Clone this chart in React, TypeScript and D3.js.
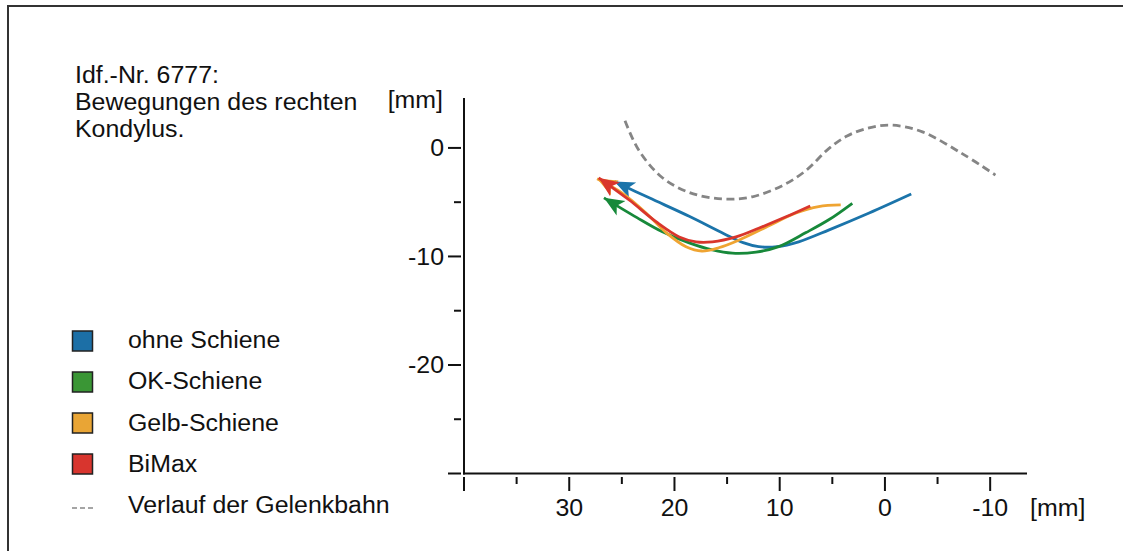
import React from "react";
import * as d3 from "d3";

const titleLines = ["Idf.-Nr. 6777:", "Bewegungen des rechten", "Kondylus."];
const unitLabel = "[mm]";

const xMajorTicks = [40, 30, 20, 10, 0, -10];
const xMinorTicks = [35, 25, 15, 5, -5];
const xTickLabels = ["", "30", "20", "10", "0", "-10"];
const yMajorTicks = [0, -10, -20, -30];
const yMinorTicks = [-5, -15, -25];
const yTickLabels = ["0", "-10", "-20", ""];

type P = [number, number];

const gelenkbahn: P[] = [
  [24.7, 2.5], [23.4, -0.2], [21.2, -2.7], [18.6, -4.1], [15.5, -4.7], [12.6, -4.5],
  [9.6, -3.4], [7.4, -2.0], [5.5, -0.2], [3.6, 1.1], [1.5, 1.85], [-0.66, 2.1],
  [-3.5, 1.5], [-7.3, -0.5], [-10.5, -2.5],
];

const ohneSchiene: P[] = [
  [-2.5, -4.25], [1.5, -6.0], [5.3, -7.55], [8.2, -8.65], [10.25, -9.1], [12.0, -9.1],
  [13.4, -8.75], [15.3, -7.9], [18.6, -6.3], [22.4, -4.6], [25.7, -3.1],
];

const okSchiene: P[] = [
  [3.1, -5.1], [5.3, -6.6], [7.5, -7.8], [10.1, -9.1], [12.25, -9.6], [14.5, -9.7],
  [16.4, -9.4], [18.6, -8.75], [21.2, -7.7], [23.6, -6.4], [26.7, -4.6],
];

const gelbSchiene: P[] = [
  [4.2, -5.25], [6.3, -5.4], [8.45, -6.0], [11.3, -7.3], [13.9, -8.5], [15.8, -9.2],
  [17.4, -9.5], [18.9, -9.1], [20.8, -7.8], [22.7, -6.0], [25.0, -4.15], [27.35, -2.85],
];

const biMax: P[] = [
  [7.1, -5.35], [9.4, -6.35], [12.0, -7.4], [14.15, -8.2], [16.4, -8.65], [17.95, -8.65],
  [19.55, -8.2], [21.75, -6.8], [24.3, -4.8], [27.2, -2.75],
];

const seriesNames = ["ohne Schiene", "OK-Schiene", "Gelb-Schiene", "BiMax"];
const seriesData = [ohneSchiene, okSchiene, gelbSchiene, biMax];
const lineColors = ["#1b74aa", "#17893a", "#efa432", "#d9362c"];
const legendColors = ["#1c6fa6", "#3a9635", "#e9a535", "#d8352e"];
const gelenkName = "Verlauf der Gelenkbahn";

const FONT = "'Liberation Sans', Arial, Helvetica, sans-serif";
const FS = 23.5;
const SX = 1.06;

function Txt({ x, y, anchor = "start", children }: { x: number; y: number; anchor?: string; children: React.ReactNode }) {
  return (
    <text
      transform={`translate(${x},${y}) scale(${SX},1)`}
      textAnchor={anchor}
      fontFamily={FONT}
      fontSize={FS}
      fill="#111"
    >
      {children}
    </text>
  );
}

export default function App() {
  const W = 1123, H = 551;
  const x = d3.scaleLinear().domain([40, -13.5]).range([464, 1027]);
  const y = d3.scaleLinear().domain([4.6, -30]).range([98, 473.5]);
  const line = d3
    .line<P>()
    .x((d) => x(d[0]))
    .y((d) => y(d[1]))
    .curve(d3.curveCatmullRom.alpha(0.5));

  const axisX = x(40);
  const axisY = y(-30);

  return (
    <svg width={W} height={H} style={{ display: "block", position: "absolute", left: 0, top: 0 }}>
      <defs>
        {lineColors.map((c, i) => (
          <marker
            key={i}
            id={`arr${i}`}
            markerUnits="userSpaceOnUse"
            viewBox="0 -10 22 20"
            markerWidth={22}
            markerHeight={20}
            refX={20}
            refY={0}
            orient="auto"
          >
            <path d="M0,-8.5 L20,0 L0,8.5 L5,0 Z" fill={c} />
          </marker>
        ))}
      </defs>
      <rect x={0} y={0} width={W} height={H} fill="#fff" />
      <path d={`M8,${H} V6 H${W}`} fill="none" stroke="#333" strokeWidth={2} />

      {titleLines.map((t, i) => (
        <Txt key={i} x={75} y={83 + i * 27}>
          {t}
        </Txt>
      ))}

      {/* axes */}
      <line x1={axisX} x2={axisX} y1={98} y2={axisY + 1} stroke="#111" strokeWidth={2} />
      <line x1={axisX - 1} x2={1027} y1={axisY} y2={axisY} stroke="#111" strokeWidth={2} />
      <Txt x={443} y={108} anchor="end">
        {unitLabel}
      </Txt>
      {yMajorTicks.map((v, i) => (
        <g key={"ym" + i}>
          <line x1={448} x2={461} y1={y(v)} y2={y(v)} stroke="#111" strokeWidth={2} />
          <Txt x={444} y={y(v) + 8.5} anchor="end">
            {yTickLabels[i]}
          </Txt>
        </g>
      ))}
      {yMinorTicks.map((v, i) => (
        <line key={"yn" + i} x1={454} x2={461} y1={y(v)} y2={y(v)} stroke="#111" strokeWidth={2} />
      ))}
      {xMajorTicks.map((v, i) => (
        <g key={"xm" + i}>
          <line x1={x(v)} x2={x(v)} y1={477} y2={491} stroke="#111" strokeWidth={2} />
          <Txt x={x(v)} y={516} anchor="middle">
            {xTickLabels[i]}
          </Txt>
        </g>
      ))}
      {xMinorTicks.map((v, i) => (
        <line key={"xn" + i} x1={x(v)} x2={x(v)} y1={477} y2={484} stroke="#111" strokeWidth={2} />
      ))}
      <Txt x={1030} y={516}>
        {unitLabel}
      </Txt>

      {/* Gelenkbahn */}
      <path d={line(gelenkbahn) || ""} fill="none" stroke="#858585" strokeWidth={2.8} strokeDasharray="8 4.5" />

      {/* series */}
      {seriesData.map((s, i) => (
        <path
          key={i}
          d={line(s) || ""}
          fill="none"
          stroke={lineColors[i]}
          strokeWidth={2.8}
          markerEnd={`url(#arr${i})`}
        />
      ))}

      {/* legend */}
      {seriesNames.map((n, i) => (
        <g key={"lg" + i}>
          <rect
            x={72.5}
            y={331 + i * 41}
            width={20}
            height={20}
            fill={legendColors[i]}
            stroke="#222"
            strokeWidth={1.5}
          />
          <Txt x={128} y={348 + i * 41.3}>
            {n}
          </Txt>
        </g>
      ))}
      <line x1={72} x2={93} y1={508} y2={508} stroke="#888" strokeWidth={1.5} strokeDasharray="5 3" />
      <Txt x={128} y={513}>
        {gelenkName}
      </Txt>
    </svg>
  );
}
